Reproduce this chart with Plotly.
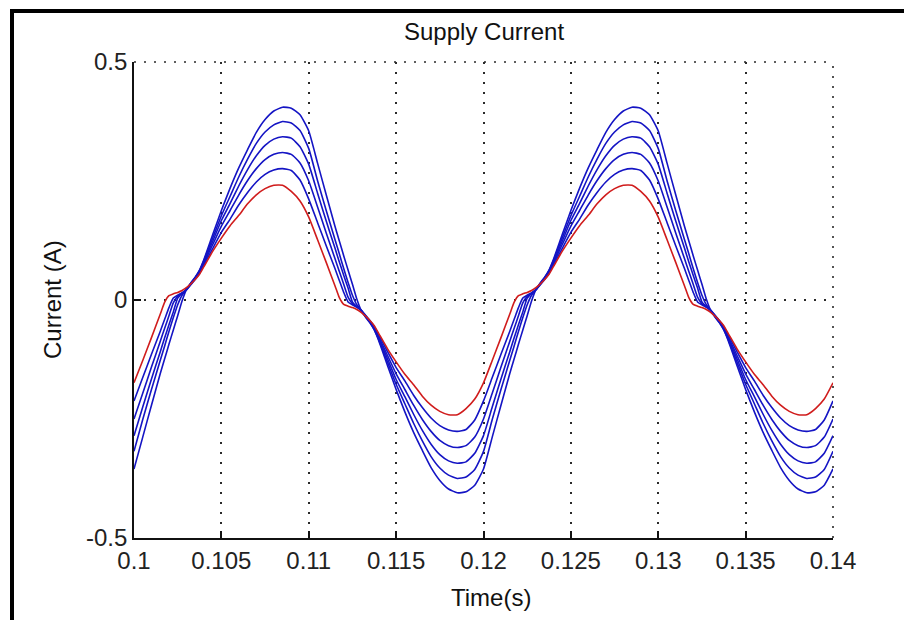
import plotly.graph_objects as go

# ---------------- data ----------------
time_s = [
    0.1, 0.1005, 0.101, 0.1015, 0.10175, 0.102, 0.10225, 0.1025, 0.10275, 0.103, 0.10325, 0.1035, 0.10375,
    0.104, 0.1045, 0.105, 0.1055, 0.106, 0.1065, 0.107, 0.1075, 0.108, 0.1085, 0.109, 0.1095,
    0.11, 0.1105, 0.111, 0.1115, 0.11175, 0.112, 0.11225, 0.1125, 0.11275, 0.113, 0.11325, 0.1135, 0.11375,
    0.114, 0.1145, 0.115, 0.1155, 0.116, 0.1165, 0.117, 0.1175, 0.118, 0.1185, 0.119, 0.1195,
    0.12, 0.1205, 0.121, 0.1215, 0.12175, 0.122, 0.12225, 0.1225, 0.12275, 0.123, 0.12325, 0.1235, 0.12375,
    0.124, 0.1245, 0.125, 0.1255, 0.126, 0.1265, 0.127, 0.1275, 0.128, 0.1285, 0.129, 0.1295,
    0.13, 0.1305, 0.131, 0.1315, 0.13175, 0.132, 0.13225, 0.1325, 0.13275, 0.133, 0.13325, 0.1335, 0.13375,
    0.134, 0.1345, 0.135, 0.1355, 0.136, 0.1365, 0.137, 0.1375, 0.138, 0.1385, 0.139, 0.1395,
    0.14,
]

current_b1 = [
    -0.355, -0.288, -0.221, -0.155, -0.124, -0.093, -0.063, -0.033, -0.002, 0.022, 0.036, 0.048, 0.063,
    0.085, 0.137, 0.188, 0.235, 0.278, 0.316, 0.352, 0.379, 0.397, 0.405, 0.403, 0.389,
    0.355, 0.288, 0.221, 0.155, 0.124, 0.093, 0.063, 0.033, 0.002, -0.022, -0.036, -0.048, -0.063,
    -0.085, -0.137, -0.188, -0.235, -0.278, -0.316, -0.352, -0.379, -0.397, -0.405, -0.403, -0.389,
    -0.355, -0.288, -0.221, -0.155, -0.124, -0.093, -0.063, -0.033, -0.002, 0.022, 0.036, 0.048, 0.063,
    0.085, 0.137, 0.188, 0.235, 0.278, 0.316, 0.352, 0.379, 0.397, 0.405, 0.403, 0.389,
    0.355, 0.288, 0.221, 0.155, 0.124, 0.093, 0.063, 0.033, 0.002, -0.022, -0.036, -0.048, -0.063,
    -0.085, -0.137, -0.188, -0.235, -0.278, -0.316, -0.352, -0.379, -0.397, -0.405, -0.403, -0.389,
    -0.355,
]

current_b2 = [
    -0.318, -0.251, -0.188, -0.127, -0.097, -0.066, -0.037, -0.010, 0.010, 0.022, 0.035, 0.047, 0.062,
    0.083, 0.130, 0.177, 0.218, 0.259, 0.296, 0.329, 0.353, 0.368, 0.375, 0.372, 0.356,
    0.318, 0.251, 0.188, 0.127, 0.097, 0.066, 0.037, 0.010, -0.010, -0.022, -0.035, -0.047, -0.062,
    -0.083, -0.130, -0.177, -0.218, -0.259, -0.296, -0.329, -0.353, -0.368, -0.375, -0.372, -0.356,
    -0.318, -0.251, -0.188, -0.127, -0.097, -0.066, -0.037, -0.010, 0.010, 0.022, 0.035, 0.047, 0.062,
    0.083, 0.130, 0.177, 0.218, 0.259, 0.296, 0.329, 0.353, 0.368, 0.375, 0.372, 0.356,
    0.318, 0.251, 0.188, 0.127, 0.097, 0.066, 0.037, 0.010, -0.010, -0.022, -0.035, -0.047, -0.062,
    -0.083, -0.130, -0.177, -0.218, -0.259, -0.296, -0.329, -0.353, -0.368, -0.375, -0.372, -0.356,
    -0.318,
]

current_b3 = [
    -0.285, -0.225, -0.166, -0.109, -0.080, -0.052, -0.025, 0.004, 0.014, 0.022, 0.034, 0.046, 0.060,
    0.080, 0.123, 0.167, 0.203, 0.240, 0.274, 0.303, 0.325, 0.338, 0.343, 0.340, 0.322,
    0.285, 0.225, 0.166, 0.109, 0.080, 0.052, 0.025, -0.004, -0.014, -0.022, -0.034, -0.046, -0.060,
    -0.080, -0.123, -0.167, -0.203, -0.240, -0.274, -0.303, -0.325, -0.338, -0.343, -0.340, -0.322,
    -0.285, -0.225, -0.166, -0.109, -0.080, -0.052, -0.025, 0.004, 0.014, 0.022, 0.034, 0.046, 0.060,
    0.080, 0.123, 0.167, 0.203, 0.240, 0.274, 0.303, 0.325, 0.338, 0.343, 0.340, 0.322,
    0.285, 0.225, 0.166, 0.109, 0.080, 0.052, 0.025, -0.004, -0.014, -0.022, -0.034, -0.046, -0.060,
    -0.080, -0.123, -0.167, -0.203, -0.240, -0.274, -0.303, -0.325, -0.338, -0.343, -0.340, -0.322,
    -0.285,
]

current_b4 = [
    -0.250, -0.196, -0.141, -0.087, -0.060, -0.033, -0.006, 0.008, 0.015, 0.022, 0.033, 0.045, 0.058,
    0.077, 0.116, 0.155, 0.188, 0.221, 0.251, 0.276, 0.295, 0.306, 0.310, 0.306, 0.288,
    0.250, 0.196, 0.141, 0.087, 0.060, 0.033, 0.006, -0.008, -0.015, -0.022, -0.033, -0.045, -0.058,
    -0.077, -0.116, -0.155, -0.188, -0.221, -0.251, -0.276, -0.295, -0.306, -0.310, -0.306, -0.288,
    -0.250, -0.196, -0.141, -0.087, -0.060, -0.033, -0.006, 0.008, 0.015, 0.022, 0.033, 0.045, 0.058,
    0.077, 0.116, 0.155, 0.188, 0.221, 0.251, 0.276, 0.295, 0.306, 0.310, 0.306, 0.288,
    0.250, 0.196, 0.141, 0.087, 0.060, 0.033, 0.006, -0.008, -0.015, -0.022, -0.033, -0.045, -0.058,
    -0.077, -0.116, -0.155, -0.188, -0.221, -0.251, -0.276, -0.295, -0.306, -0.310, -0.306, -0.288,
    -0.250,
]

current_b5 = [
    -0.212, -0.163, -0.114, -0.066, -0.041, -0.016, 0.004, 0.010, 0.015, 0.021, 0.032, 0.043, 0.056,
    0.073, 0.108, 0.142, 0.170, 0.200, 0.226, 0.248, 0.264, 0.273, 0.276, 0.272, 0.252,
    0.212, 0.163, 0.114, 0.066, 0.041, 0.016, -0.004, -0.010, -0.015, -0.021, -0.032, -0.043, -0.056,
    -0.073, -0.108, -0.142, -0.170, -0.200, -0.226, -0.248, -0.264, -0.273, -0.276, -0.272, -0.252,
    -0.212, -0.163, -0.114, -0.066, -0.041, -0.016, 0.004, 0.010, 0.015, 0.021, 0.032, 0.043, 0.056,
    0.073, 0.108, 0.142, 0.170, 0.200, 0.226, 0.248, 0.264, 0.273, 0.276, 0.272, 0.252,
    0.212, 0.163, 0.114, 0.066, 0.041, 0.016, -0.004, -0.010, -0.015, -0.021, -0.032, -0.043, -0.056,
    -0.073, -0.108, -0.142, -0.170, -0.200, -0.226, -0.248, -0.264, -0.273, -0.276, -0.272, -0.252,
    -0.212,
]

current_red = [
    -0.174, -0.127, -0.079, -0.030, -0.005, 0.009, 0.013, 0.016, 0.020, 0.026, 0.034, 0.043, 0.054,
    0.070, 0.102, 0.130, 0.156, 0.178, 0.202, 0.221, 0.234, 0.241, 0.241, 0.228, 0.208,
    0.174, 0.127, 0.079, 0.030, 0.005, -0.009, -0.013, -0.016, -0.020, -0.026, -0.034, -0.043, -0.054,
    -0.070, -0.102, -0.130, -0.156, -0.178, -0.202, -0.221, -0.234, -0.241, -0.241, -0.228, -0.208,
    -0.174, -0.127, -0.079, -0.030, -0.005, 0.009, 0.013, 0.016, 0.020, 0.026, 0.034, 0.043, 0.054,
    0.070, 0.102, 0.130, 0.156, 0.178, 0.202, 0.221, 0.234, 0.241, 0.241, 0.228, 0.208,
    0.174, 0.127, 0.079, 0.030, 0.005, -0.009, -0.013, -0.016, -0.020, -0.026, -0.034, -0.043, -0.054,
    -0.070, -0.102, -0.130, -0.156, -0.178, -0.202, -0.221, -0.234, -0.241, -0.241, -0.228, -0.208,
    -0.174,
]

x_tick_values = [0.1, 0.105, 0.11, 0.115, 0.12, 0.125, 0.13, 0.135, 0.14]
x_tick_labels = ["0.1", "0.105", "0.11", "0.115", "0.12", "0.125", "0.13", "0.135", "0.14"]
y_tick_values = [-0.5, 0, 0.5]
y_tick_labels = ["-0.5", "0", "0.5"]

title_text = "Supply Current"
x_label = "Time(s)"
y_label = "Current (A)"

# ---------------- figure ----------------
BLUE = "#1414c4"
RED = "#d01c1c"
FONT = "Liberation Sans, Arial, sans-serif"
GRID = "#2a2a2a"
GRID_DASH = "2px,8px"

fig = go.Figure()
for vals, color in [
    (current_b1, BLUE),
    (current_b2, BLUE),
    (current_b3, BLUE),
    (current_b4, BLUE),
    (current_b5, BLUE),
    (current_red, RED),
]:
    fig.add_trace(go.Scatter(
        x=time_s, y=vals, mode="lines",
        line=dict(color=color, width=1.6, shape="spline", smoothing=0.5),
        showlegend=False, hoverinfo="skip",
    ))

axis_common = dict(
    showgrid=True, gridcolor=GRID, gridwidth=1.6, griddash=GRID_DASH,
    showline=True, linecolor="#111111", linewidth=1.6, mirror=False,
    ticks="inside", ticklen=7, tickwidth=1.6, tickcolor="#111111",
    tickfont=dict(family=FONT, size=24, color="#222222"),
    zeroline=False, fixedrange=True,
)

# The page body has an 8px default margin, so margins are shifted by 8px
# to put the plot area at x 134..833, y 62..538 in the window.
fig.update_layout(
    width=912, height=620,
    margin=dict(l=126, r=87, t=54, b=90),
    paper_bgcolor="white", plot_bgcolor="white",
    xaxis=dict(range=[0.1, 0.14], tickmode="array", tickvals=x_tick_values,
               ticktext=x_tick_labels, **axis_common),
    yaxis=dict(range=[-0.5, 0.5], tickmode="array", tickvals=y_tick_values,
               ticktext=y_tick_labels, **axis_common),
    annotations=[
        dict(text=title_text, xref="paper", yref="paper", x=0.5, y=(538 - 31) / 476,
             showarrow=False, xanchor="center", yanchor="middle",
             font=dict(family=FONT, size=24, color="#111111")),
        dict(text=x_label, xref="paper", yref="paper", x=(491 - 134) / 699, y=(538 - 597) / 476,
             showarrow=False, xanchor="center", yanchor="middle",
             font=dict(family=FONT, size=24, color="#111111")),
        dict(text=y_label, xref="paper", yref="paper", x=(52 - 134) / 699, y=0.5,
             showarrow=False, xanchor="center", yanchor="middle", textangle=-90,
             font=dict(family=FONT, size=24, color="#111111")),
    ],
    shapes=[
        # outer black frame of the figure window
        dict(type="rect", xref="paper", yref="paper",
             x0=(12 - 134) / 699, x1=(940 - 134) / 699,
             y0=(538 - 11) / 476, y1=(538 - 650) / 476,
             line=dict(color="black", width=4), fillcolor="rgba(0,0,0,0)"),
        # dotted grid lines on the top and right edges of the axes
        dict(type="line", xref="paper", yref="paper", x0=0, x1=1, y0=1, y1=1,
             line=dict(color=GRID, width=1.6, dash=GRID_DASH), layer="below"),
        dict(type="line", xref="paper", yref="paper", x0=1, x1=1, y0=0, y1=1,
             line=dict(color=GRID, width=1.6, dash=GRID_DASH), layer="below"),
    ],
)

fig.write_html("out.html")
